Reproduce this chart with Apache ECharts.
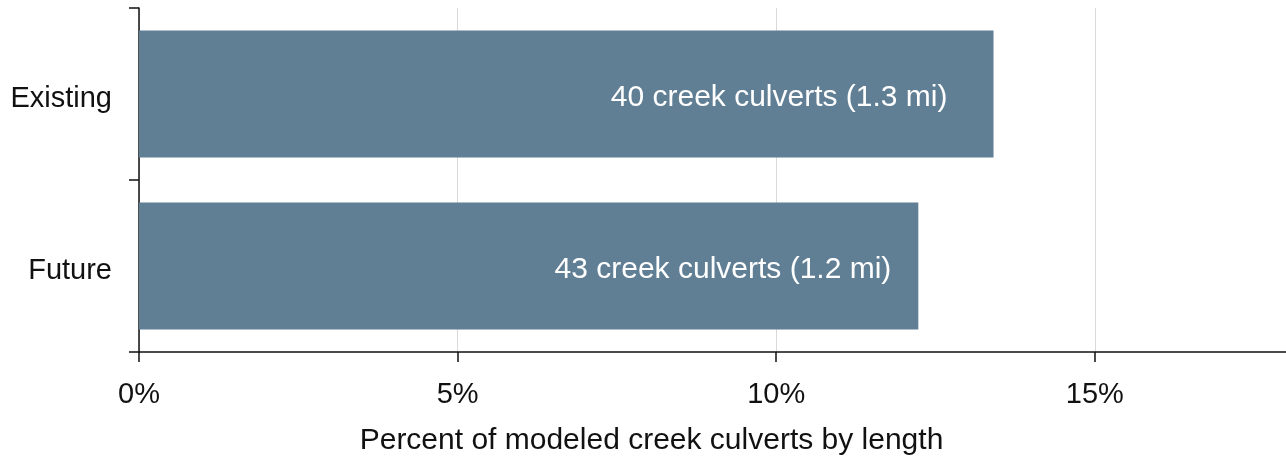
<!DOCTYPE html>
<html><head><meta charset="utf-8">
<script src="https://cdn.jsdelivr.net/npm/echarts@6/dist/echarts.min.js"></script>
<style>html,body{margin:0;padding:0;background:#fff}#c{width:1286px;height:461px}</style>
</head><body><div id="c"></div>
<script>
const categories = ["Existing", "Future"];
const values = [13.41, 12.23];
const barLabels = ["40 creek culverts (1.3 mi)", "43 creek culverts (1.2 mi)"];
const labelDistances = [46, 27];
const xTicks = [0, 5, 10, 15];
const xAxisTitle = "Percent of modeled creek culverts by length";

const FONT = "Liberation Sans";
const chart = echarts.init(document.getElementById('c'), null, {renderer: 'canvas'});
chart.setOption({
  animation: false,
  grid: {left: 139, right: 0, top: 8, bottom: 105, containLabel: false},
  xAxis: {
    type: 'value', min: 0, max: 18, interval: 5,
    name: xAxisTitle, nameLocation: 'middle', nameGap: 74,
    nameTextStyle: {fontFamily: FONT, fontSize: 30, color: '#111', padding: [0, 122, 0, 0]},
    axisLine: {show: true, lineStyle: {color: '#111', width: 1.5}},
    axisTick: {show: true, length: 10, inside: false, lineStyle: {color: '#111', width: 1.5}},
    axisLabel: {fontFamily: FONT, fontSize: 29, color: '#111', margin: 28,
      showMaxLabel: false,
      formatter: v => xTicks.includes(v) ? v + '%' : ''},
    splitLine: {show: true, lineStyle: {color: '#d9d9d9', width: 1}}
  },
  yAxis: {
    type: 'category', data: categories, inverse: true,
    axisLine: {show: true, lineStyle: {color: '#111', width: 1.5}},
    axisTick: {show: true, length: 10, alignWithLabel: false, lineStyle: {color: '#111', width: 1.5}},
    axisLabel: {margin: 27, formatter: v => '{c|' + v + '}',
      rich: {c: {fontFamily: FONT, fontSize: 29, color: '#111', padding: [9, 0, 0, 0]}}}
  },
  series: [{
    type: 'bar',
    barWidth: 127,
    itemStyle: {color: '#607f95'},
    data: values.map((v, i) => ({
      value: v,
      label: {show: true, position: 'insideRight', distance: labelDistances[i], offset: [0, 4],
        formatter: barLabels[i], color: '#fff', fontFamily: FONT, fontSize: 30}
    }))
  }]
});
</script></body></html>
